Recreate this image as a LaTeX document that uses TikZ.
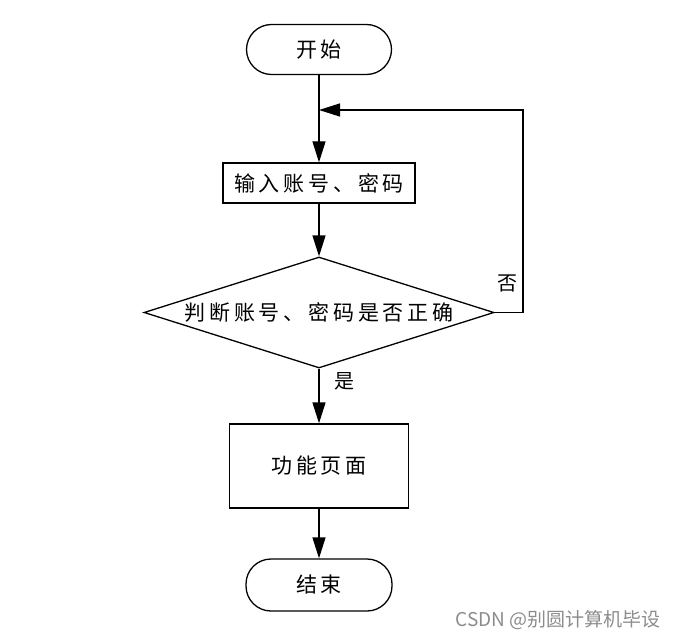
\documentclass[tikz,border=0pt]{standalone}
\usepackage{fontspec}
\usetikzlibrary{shapes.geometric,arrows.meta}
\newfontfamily\cjk[LetterSpace=18]{Noto Sans CJK SC}
\newfontfamily\wmfont{Noto Sans CJK SC}
\definecolor{wmgray}{RGB}{140,140,140}
\begin{document}
\begin{tikzpicture}[x=1pt,y=-1pt,
  base/.style={draw=black,line width=1.3pt,inner sep=0pt,font=\cjk\fontsize{21}{23}\selectfont},
  term/.style={base,rectangle,rounded corners=25pt},
  proc/.style={base,rectangle},
  dec/.style={base,diamond,aspect=3.15},
  lbl/.style={inner sep=0pt,font=\cjk\fontsize{20}{22}\selectfont},
  arr/.style={line width=1.3pt,-{Triangle[length=21pt,width=13pt]}},
  ln/.style={line width=1.3pt}]
\useasboundingbox (0,0) rectangle (679,639);
\node[term,minimum width=145pt,minimum height=50pt] (start) at (319,49.5) {开始};
\node[proc,minimum width=192pt,minimum height=40pt] (inp) at (319,183) {输入账号、密码};
\node[dec,minimum width=350pt,minimum height=111pt] (dia) at (319,312.5) {判断账号、密码是否正确};
\node[proc,minimum width=179pt,minimum height=84pt] (func) at (319,466) {功能页面};
\node[term,minimum width=146pt,minimum height=52pt] (end) at (319,585) {结束};
\coordinate (join) at (319,110);
\coordinate (corner) at (523,110);
\node[lbl] (yes) at (344,381) {是};
\node[lbl] (no) at (507,283) {否};
\node[inner sep=0pt,text=wmgray,font=\wmfont\fontsize{19}{21}\selectfont] (wm) at (558,620) {CSDN @别圆计算机毕设};
\draw[arr] (start.south) -- (inp.north);
\draw[arr] (inp.south) -- (dia.north);
\draw[arr] (dia.south) -- (func.north);
\draw[arr] (func.south) -- (end.north);
\draw[arr] (dia.east) -| (corner) -- (join);
\end{tikzpicture}
\end{document}
